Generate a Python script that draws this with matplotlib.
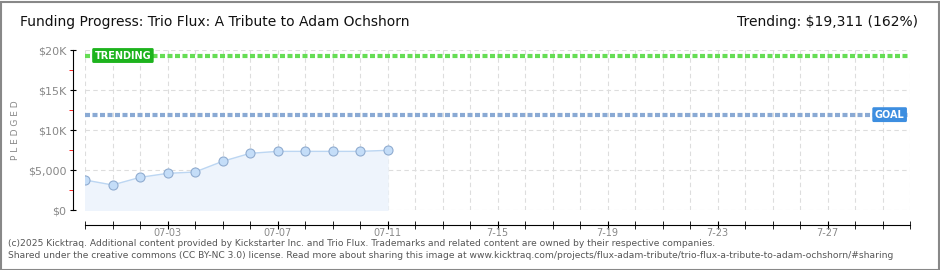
import numpy as np
import matplotlib.pyplot as plt

# данные
days = np.arange(12)  # 06-30 .. 07-11
pledged = [3750, 3130, 4080, 4580, 4750, 6080, 7080, 7330, 7330, 7330, 7330, 7460]
goal = 11920
trending = 19311
tick_days = [3, 7, 11, 15, 19, 23, 27]
tick_labels = ['07-03', '07-07', '07-11', '7-15', '7-19', '7-23', '7-27']
y_ticks = [0, 5000, 10000, 15000, 20000]
y_labels = ['$0', '$5,000', '$10K', '$15K', '$20K']

plt.rcParams['font.family'] = ['DejaVu Sans']

fig = plt.figure(figsize=(9.4, 2.7), dpi=100)
W, H = 940, 270
ax = fig.add_axes([85 / W, 1 - 210 / H, 825 / W, 160 / H])

# сетка
for d in range(31):
    ax.axvline(d, color='#dddddd', lw=0.8, ls=(0, (4, 3)), zorder=0)
for y in y_ticks:
    ax.axhline(y, color='#dddddd', lw=0.8, ls=(0, (4, 3)), zorder=0)

# линии цели и тренда
ax.axhline(trending, color='#66dd55', lw=3, ls=(0, (1.2, 0.6)), zorder=2)
ax.axhline(goal, color='#8aaad4', lw=3, ls=(0, (1.2, 0.6)), zorder=2)

ax.fill_between(days, pledged, 0, color='#eef4fc', zorder=1)
ax.plot(days, pledged, color='#bcd6f2', lw=1, zorder=3)
ax.plot(days, pledged, 'o', ms=6.5, mfc='#c4ddf8', mec='#90acd0', mew=0.8, zorder=4)

ax.text(0.35, trending, 'TRENDING', color='white', fontsize=7, fontweight='bold',
        va='center', ha='left', zorder=5,
        bbox=dict(boxstyle='round,pad=0.25,rounding_size=0.15', fc='#1db31d', ec='none'))
ax.text(29.8, goal, 'GOAL', color='white', fontsize=7, fontweight='bold',
        va='center', ha='right', zorder=5,
        bbox=dict(boxstyle='round,pad=0.25,rounding_size=0.15', fc='#3d8ee0', ec='none'))

ax.set_xlim(0, 30)
ax.set_ylim(0, 20000)
ax.set_facecolor('none')
for s in ['top', 'right']:
    ax.spines[s].set_visible(False)
ax.spines['left'].set_position(('outward', 9))
ax.spines['bottom'].set_position(('outward', 11))

ax.set_xticks(range(31), minor=True)
ax.set_xticks(tick_days)
ax.set_xticklabels(tick_labels)
ax.tick_params(axis='x', which='both', direction='inout', length=6, color='black',
               labelsize=7, labelcolor='#888888', pad=-1)
ax.set_yticks(y_ticks)
ax.set_yticklabels(y_labels)
ax.set_yticks([2500, 7500, 12500, 17500], minor=True)
ax.tick_params(axis='y', which='major', direction='inout', length=5, color='black',
               labelsize=8, labelcolor='#888888', pad=2)
ax.tick_params(axis='y', which='minor', direction='out', length=3, color='red')
ax.set_ylabel('P L E D G E D', fontsize=6.5, color='#888888')
ax.yaxis.set_label_coords((20 - 85) / 825, 0.5)

fig.text(20 / W, 1 - 22 / H, 'Funding Progress: Trio Flux: A Tribute to Adam Ochshorn',
         fontsize=10, va='center', ha='left', color='#111111')
fig.text(918 / W, 1 - 22 / H, 'Trending: $19,311 (162%)',
         fontsize=10, va='center', ha='right', color='#111111')
fig.text(8 / W, 1 - 243 / H,
         '(c)2025 Kicktraq. Additional content provided by Kickstarter Inc. and Trio Flux. '
         'Trademarks and related content are owned by their respective companies.',
         fontsize=6.6, color='#555555', va='center')
fig.text(8 / W, 1 - 256 / H,
         'Shared under the creative commons (CC BY-NC 3.0) license. Read more about sharing this image at '
         'www.kicktraq.com/projects/flux-adam-tribute/trio-flux-a-tribute-to-adam-ochshorn/#sharing',
         fontsize=6.6, color='#555555', va='center')

# рамка
fig.patches.append(plt.Rectangle((0.5 / W, 0.5 / H), 1 - 2 / W, 1 - 2 / H, transform=fig.transFigure,
                                 fill=False, ec='#888888', lw=1.5))

fig.savefig('out.png', dpi=100)
